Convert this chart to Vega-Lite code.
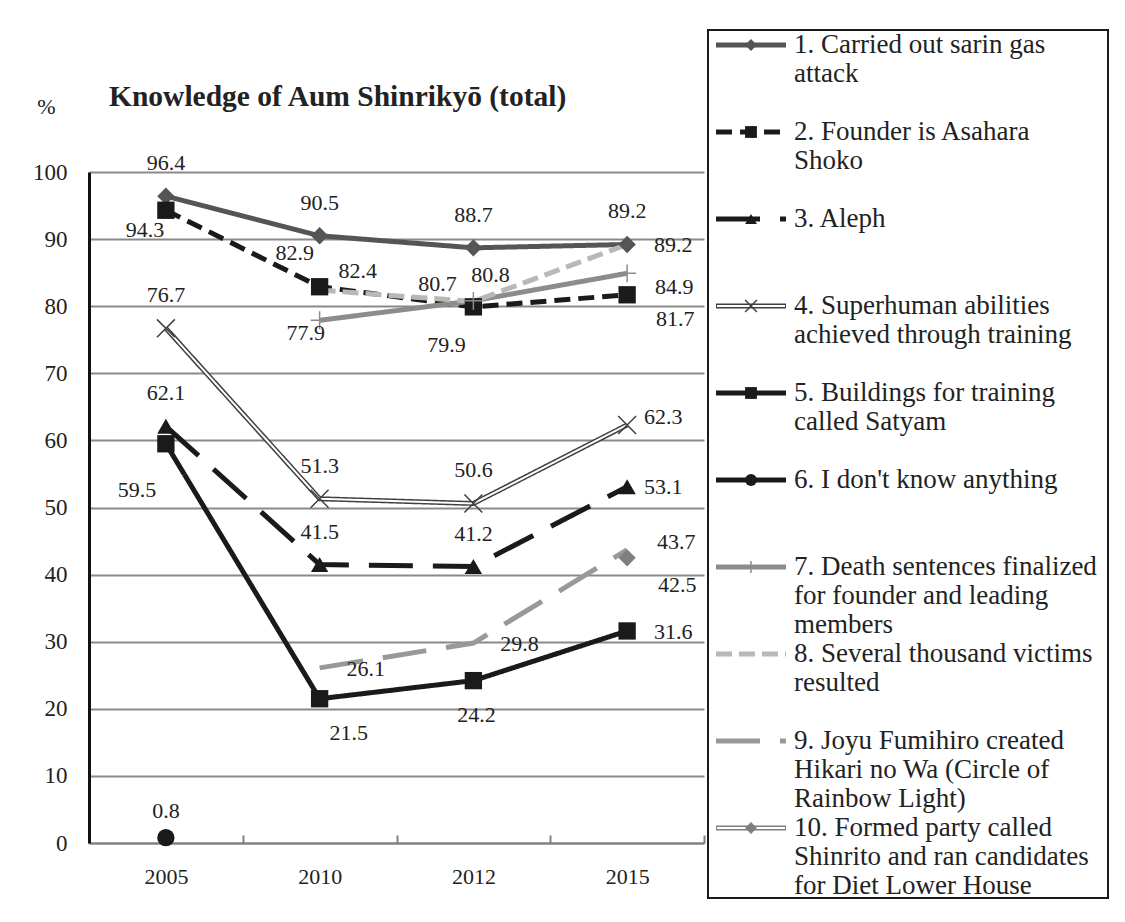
{
  "$schema": "https://vega.github.io/schema/vega-lite/v6.json",
  "background": "white",
  "padding": {"left": 32, "top": 29, "right": 5, "bottom": 5},
  "config": {
    "view": {"stroke": null},
    "font": "Liberation Serif, DejaVu Serif, serif",
    "text": {"font": "Liberation Serif, DejaVu Serif, serif", "fontSize": 22, "fill": "#222222"}
  },
  "datasets": {
    "main": [
      {"s": 1, "series": "Carried out sarin gas attack", "year": "2005", "value": 96.4},
      {"s": 1, "series": "Carried out sarin gas attack", "year": "2010", "value": 90.5},
      {"s": 1, "series": "Carried out sarin gas attack", "year": "2012", "value": 88.7},
      {"s": 1, "series": "Carried out sarin gas attack", "year": "2015", "value": 89.2},
      {"s": 2, "series": "Founder is Asahara Shoko", "year": "2005", "value": 94.3},
      {"s": 2, "series": "Founder is Asahara Shoko", "year": "2010", "value": 82.9},
      {"s": 2, "series": "Founder is Asahara Shoko", "year": "2012", "value": 79.9},
      {"s": 2, "series": "Founder is Asahara Shoko", "year": "2015", "value": 81.7},
      {"s": 3, "series": "Aleph", "year": "2005", "value": 62.1},
      {"s": 3, "series": "Aleph", "year": "2010", "value": 41.5},
      {"s": 3, "series": "Aleph", "year": "2012", "value": 41.2},
      {"s": 3, "series": "Aleph", "year": "2015", "value": 53.1},
      {"s": 4, "series": "Superhuman abilities", "year": "2005", "value": 76.7},
      {"s": 4, "series": "Superhuman abilities", "year": "2010", "value": 51.3},
      {"s": 4, "series": "Superhuman abilities", "year": "2012", "value": 50.6},
      {"s": 4, "series": "Superhuman abilities", "year": "2015", "value": 62.3},
      {"s": 5, "series": "Satyam", "year": "2005", "value": 59.5},
      {"s": 5, "series": "Satyam", "year": "2010", "value": 21.5},
      {"s": 5, "series": "Satyam", "year": "2012", "value": 24.2},
      {"s": 5, "series": "Satyam", "year": "2015", "value": 31.6},
      {"s": 6, "series": "I don't know anything", "year": "2005", "value": 0.8},
      {"s": 7, "series": "Death sentences finalized", "year": "2010", "value": 77.9},
      {"s": 7, "series": "Death sentences finalized", "year": "2012", "value": 80.8},
      {"s": 7, "series": "Death sentences finalized", "year": "2015", "value": 84.9},
      {"s": 8, "series": "Several thousand victims", "year": "2010", "value": 82.4},
      {"s": 8, "series": "Several thousand victims", "year": "2012", "value": 80.7},
      {"s": 8, "series": "Several thousand victims", "year": "2015", "value": 89.2},
      {"s": 9, "series": "Hikari no Wa", "year": "2010", "value": 26.1},
      {"s": 9, "series": "Hikari no Wa", "year": "2012", "value": 29.8},
      {"s": 9, "series": "Hikari no Wa", "year": "2015", "value": 43.7},
      {"s": 10, "series": "Shinrito", "year": "2015", "value": 42.5}
    ],
    "legend": [
      {"s": 1, "label": "1. Carried out sarin gas\nattack"},
      {"s": 2, "label": "2. Founder is Asahara\nShoko"},
      {"s": 3, "label": "3. Aleph"},
      {"s": 4, "label": "4. Superhuman abilities\nachieved through training"},
      {"s": 5, "label": "5. Buildings for training\ncalled Satyam"},
      {"s": 6, "label": "6. I don't know anything"},
      {"s": 7, "label": "7. Death sentences finalized\nfor founder and leading\nmembers"},
      {"s": 8, "label": "8. Several thousand victims\nresulted"},
      {"s": 9, "label": "9. Joyu Fumihiro created\nHikari no Wa (Circle of\nRainbow Light)"},
      {"s": 10, "label": "10. Formed party called\nShinrito and ran candidates\nfor Diet Lower House"}
    ]
  },
  "spacing": 2,
  "hconcat": [
    {
      "width": 615,
      "height": 671,
      "title": {"text": "Knowledge of Aum Shinrikyō (total)", "anchor": "start", "frame": "group", "dx": 20, "dy": 27, "fontSize": 29.5, "fontWeight": "bold", "font": "Liberation Serif, DejaVu Serif, serif", "color": "#222222", "offset": 10},
      "data": {"name": "main"},
      "encoding": {
        "x": {
          "field": "year", "type": "ordinal",
          "scale": {"type": "band", "paddingInner": 0, "paddingOuter": 0},
          "axis": {"title": null, "labelAngle": 0, "tickBand": "extent", "tickSize": -8, "tickColor": "#808080", "tickWidth": 2, "domainColor": "#808080", "domainWidth": 2, "labelPadding": 31, "labelFontSize": 22, "labelFont": "Liberation Serif, DejaVu Serif, serif", "labelColor": "#222222", "grid": false}
        },
        "y": {
          "field": "value", "type": "quantitative",
          "scale": {"domain": [0, 100], "nice": false},
          "axis": {"values": [0, 10, 20, 30, 40, 50, 60, 70, 80, 90, 100], "title": "%", "titleAngle": 0, "titleX": -43, "titleY": -59, "titleAlign": "center", "titleBaseline": "alphabetic", "titleFontSize": 22, "titleFontWeight": "normal", "titleFont": "Liberation Serif, DejaVu Serif, serif", "titleColor": "#222222", "grid": true, "gridColor": "#8a8a8a", "gridWidth": 2, "domainColor": "#111111", "domainWidth": 3, "ticks": false, "tickSize": 0, "labelPadding": 22, "labelFontSize": 23, "labelFont": "Liberation Serif, DejaVu Serif, serif", "labelColor": "#222222"}
        }
      },
      "layer": [
        {
          "mark": {"type": "line", "strokeWidth": 5},
          "encoding": {
            "color": {"field": "s", "type": "nominal", "scale": {"domain": [1, 2, 3, 4, 5, 6, 7, 8, 9, 10], "range": ["#555555", "#1a1a1a", "#1a1a1a", "#404040", "#1a1a1a", "#1a1a1a", "#8c8c8c", "#b8b8b8", "#999999", "#7f7f7f"]}, "legend": null},
            "strokeDash": {"field": "s", "type": "nominal", "scale": {"domain": [1, 2, 3, 4, 5, 6, 7, 8, 9, 10], "range": [[1, 0], [16, 8], [44, 20], [1, 0], [1, 0], [1, 0], [1, 0], [16, 7], [44, 20], [1, 0]]}, "legend": null}
          }
        },
        {
          "transform": [{"filter": "datum.s == 4"}],
          "mark": {"type": "line", "strokeWidth": 2, "stroke": "white"}
        },
        {
          "transform": [{"filter": "indexof([1, 2, 3, 5, 6, 10], datum.s) >= 0"}],
          "mark": {"type": "point", "filled": true, "size": 300, "opacity": 1},
          "encoding": {
            "shape": {"field": "s", "type": "nominal", "scale": {"domain": [1, 2, 3, 4, 5, 6, 7, 8, 9, 10], "range": ["diamond", "square", "triangle-up", "M-1,-1L1,1M-1,1L1,-1", "square", "circle", "M-1,0L1,0M0,-1L0,1", "circle", "circle", "diamond"]}, "legend": null},
            "color": {"field": "s", "type": "nominal", "legend": null}
          }
        },
        {
          "transform": [{"filter": "datum.s == 4 || datum.s == 7"}],
          "mark": {"type": "point", "filled": false, "size": 320, "opacity": 1, "strokeWidth": 1.5},
          "encoding": {
            "shape": {"field": "s", "type": "nominal", "legend": null},
            "color": {"field": "s", "type": "nominal", "legend": null}
          }
        },
        {
          "encoding": {"text": {"field": "value", "type": "quantitative", "format": ".1f"}},
          "layer": [
            {"transform": [{"filter": "indexof(['1-2005','1-2010','1-2012','1-2015','3-2005','3-2010','3-2012','4-2005','4-2010','4-2012'], datum.s + '-' + datum.year) >= 0"}], "mark": {"type": "text", "dx": 0, "dy": -33}},
            {"transform": [{"filter": "datum.s == 6"}], "mark": {"type": "text", "dx": 0, "dy": -27}},
            {"transform": [{"filter": "indexof(['5-2015','8-2015','9-2010','9-2012'], datum.s + '-' + datum.year) >= 0"}], "mark": {"type": "text", "dx": 46, "dy": 1}},
            {"transform": [{"filter": "datum.s == 3 && datum.year == '2015'"}], "mark": {"type": "text", "dx": 36, "dy": 0}},
            {"transform": [{"filter": "datum.s == 4 && datum.year == '2015'"}], "mark": {"type": "text", "dx": 36, "dy": -8}},
            {"transform": [{"filter": "datum.s == 7 && datum.year == '2015'"}], "mark": {"type": "text", "dx": 47, "dy": 14}},
            {"transform": [{"filter": "datum.s == 2 && datum.year == '2015'"}], "mark": {"type": "text", "dx": 48, "dy": 24}},
            {"transform": [{"filter": "datum.s == 9 && datum.year == '2015'"}], "mark": {"type": "text", "dx": 49, "dy": -8}},
            {"transform": [{"filter": "datum.s == 10"}], "mark": {"type": "text", "dx": 50, "dy": 27}},
            {"transform": [{"filter": "datum.s == 2 && datum.year == '2005'"}], "mark": {"type": "text", "dx": -21, "dy": 20}},
            {"transform": [{"filter": "datum.s == 2 && datum.year == '2010'"}], "mark": {"type": "text", "dx": -25, "dy": -34}},
            {"transform": [{"filter": "datum.s == 2 && datum.year == '2012'"}], "mark": {"type": "text", "dx": -27, "dy": 38}},
            {"transform": [{"filter": "datum.s == 5 && datum.year == '2005'"}], "mark": {"type": "text", "dx": -29, "dy": 46}},
            {"transform": [{"filter": "datum.s == 5 && datum.year == '2010'"}], "mark": {"type": "text", "dx": 29, "dy": 34}},
            {"transform": [{"filter": "datum.s == 5 && datum.year == '2012'"}], "mark": {"type": "text", "dx": 3, "dy": 34}},
            {"transform": [{"filter": "datum.s == 7 && datum.year == '2010'"}], "mark": {"type": "text", "dx": -14, "dy": 13}},
            {"transform": [{"filter": "datum.s == 7 && datum.year == '2012'"}], "mark": {"type": "text", "dx": 17, "dy": -26}},
            {"transform": [{"filter": "datum.s == 8 && datum.year == '2010'"}], "mark": {"type": "text", "dx": 38, "dy": -19}},
            {"transform": [{"filter": "datum.s == 8 && datum.year == '2012'"}], "mark": {"type": "text", "dx": -36, "dy": -18}}
          ]
        }
      ]
    },
    {
      "width": 400,
      "height": 671,
      "data": {"name": "legend"},
      "encoding": {
        "y": {"field": "s", "type": "quantitative", "scale": {"domain": [1, 10], "range": [-127, 656], "nice": false, "zero": false}, "axis": null}
      },
      "layer": [
        {
          "transform": [{"filter": "datum.s == 1"}],
          "mark": {"type": "rect", "fill": "white", "stroke": "#1a1a1a", "strokeWidth": 2},
          "encoding": {
            "x": {"datum": 0, "type": "quantitative", "scale": {"domain": [0, 400], "nice": false, "zero": false}, "axis": null},
            "x2": {"datum": 400},
            "y": {"datum": 0.828, "type": "quantitative"},
            "y2": {"datum": 10.805}
          }
        },
        {
          "mark": {"type": "rule", "strokeWidth": 5},
          "encoding": {
            "x": {"datum": 8, "type": "quantitative"},
            "x2": {"datum": 78},
            "color": {"field": "s", "type": "nominal", "legend": null},
            "strokeDash": {"field": "s", "type": "nominal", "legend": null}
          }
        },
        {
          "transform": [{"filter": "datum.s == 4 || datum.s == 10"}],
          "mark": {"type": "rule", "strokeWidth": 2, "stroke": "white"},
          "encoding": {
            "x": {"datum": 9, "type": "quantitative"},
            "x2": {"datum": 77}
          }
        },
        {
          "transform": [{"filter": "indexof([1, 2, 3, 5, 6, 10], datum.s) >= 0"}],
          "mark": {"type": "point", "filled": true, "size": 140, "opacity": 1},
          "encoding": {
            "x": {"datum": 43, "type": "quantitative"},
            "shape": {"field": "s", "type": "nominal", "legend": null},
            "color": {"field": "s", "type": "nominal", "legend": null}
          }
        },
        {
          "transform": [{"filter": "datum.s == 4 || datum.s == 7"}],
          "mark": {"type": "point", "filled": false, "size": 140, "opacity": 1, "strokeWidth": 1.5},
          "encoding": {
            "x": {"datum": 43, "type": "quantitative"},
            "shape": {"field": "s", "type": "nominal", "legend": null},
            "color": {"field": "s", "type": "nominal", "legend": null}
          }
        },
        {
          "mark": {"type": "text", "align": "left", "baseline": "alphabetic", "dy": 8, "fontSize": 27, "lineBreak": "\n", "lineHeight": 29},
          "encoding": {
            "x": {"datum": 86, "type": "quantitative"},
            "text": {"field": "label", "type": "nominal"}
          }
        }
      ]
    }
  ]
}
